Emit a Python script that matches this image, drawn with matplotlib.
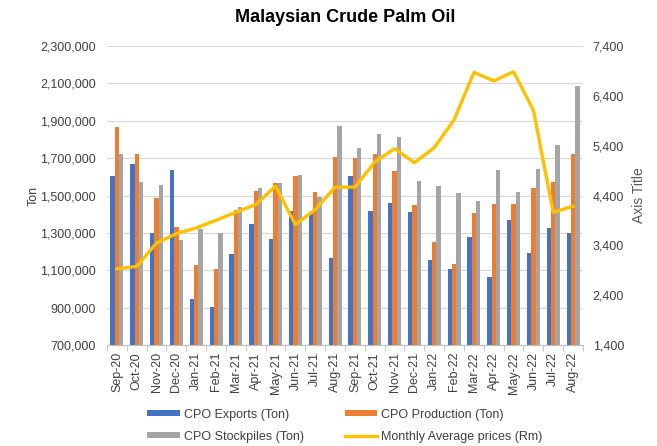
import numpy as np
import matplotlib
matplotlib.use("Agg")
import matplotlib.pyplot as plt
from matplotlib.ticker import FuncFormatter

plt.rcParams["font.family"] = ["Liberation Sans", "DejaVu Sans"]

months = ["Sep-20", "Oct-20", "Nov-20", "Dec-20", "Jan-21", "Feb-21", "Mar-21", "Apr-21",
          "May-21", "Jun-21", "Jul-21", "Aug-21", "Sep-21", "Oct-21", "Nov-21", "Dec-21",
          "Jan-22", "Feb-22", "Mar-22", "Apr-22", "May-22", "Jun-22", "Jul-22", "Aug-22"]

exports = [1607000, 1668000, 1302000, 1637000, 946000, 902000, 1187000, 1346000,
           1266000, 1416000, 1400000, 1166000, 1607000, 1418000, 1461000, 1412000,
           1157000, 1109000, 1280000, 1064000, 1368000, 1193000, 1325000, 1302000]
production = [1866000, 1721000, 1487000, 1329000, 1127000, 1105000, 1421000, 1523000,
              1566000, 1602000, 1518000, 1707000, 1698000, 1721000, 1632000, 1448000,
              1250000, 1134000, 1409000, 1457000, 1457000, 1541000, 1571000, 1721000]
stockpiles = [1721000, 1571000, 1557000, 1262000, 1320000, 1302000, 1439000, 1539000,
              1566000, 1609000, 1493000, 1871000, 1754000, 1830000, 1812000, 1580000,
              1550000, 1514000, 1470000, 1637000, 1518000, 1643000, 1770000, 2088000]
prices = [2930, 2977, 3447, 3635, 3749, 3903, 4064, 4219,
          4588, 3816, 4118, 4568, 4568, 5071, 5340, 5058,
          5360, 5917, 6870, 6700, 6883, 6111, 4064, 4185]

fig = plt.figure(figsize=(6.57, 4.46), dpi=100)
ax = fig.add_axes([107 / 657, 1 - 345 / 446, 476 / 657, 299 / 446])
ax2 = ax.twinx()

x = np.arange(len(months))
w = 0.22
b1 = ax.bar(x - w, exports, w, color="#4472C4", label="CPO Exports (Ton)", zorder=2)
b2 = ax.bar(x, production, w, color="#ED7D31", label="CPO Production (Ton)", zorder=2)
b3 = ax.bar(x + w, stockpiles, w, color="#A5A5A5", label="CPO Stockpiles (Ton)", zorder=2)
ln, = ax2.plot(x, prices, color="#FFC000", lw=2.4, label="Monthly Average prices (Rm)", zorder=3)

ax.set_ylim(700000, 2300000)
ax.set_yticks(np.arange(700000, 2300001, 200000))
ax.yaxis.set_major_formatter(FuncFormatter(lambda v, p: f"{int(v):,}"))
ax.set_xlim(-0.5, len(months) - 0.5)
ax.set_xticks(x)
ax.set_xticks(np.arange(-0.5, len(months), 1), minor=True)
ax.set_xticklabels(months, rotation=90)
ax.grid(axis="y", color="#D9D9D9", lw=0.9, zorder=0)
ax.set_axisbelow(True)

ax2.set_ylim(1400, 7400)
ax2.set_yticks(np.arange(1400, 7401, 1000))
ax2.yaxis.set_major_formatter(FuncFormatter(lambda v, p: f"{int(v):,}"))

for a in (ax, ax2):
    for s in ["top", "left", "right"]:
        a.spines[s].set_visible(False)
    a.spines["bottom"].set_color("#BFBFBF")
    a.tick_params(axis="y", length=0, labelsize=9, labelcolor="#404040")
ax2.spines["bottom"].set_visible(False)
ax.tick_params(axis="x", which="major", length=0, pad=5, labelsize=9, labelcolor="#404040")
ax.tick_params(axis="x", which="minor", length=4, color="#BFBFBF")
ax.tick_params(axis="y", pad=8)
ax2.tick_params(axis="y", pad=7)

ax.set_ylabel("Ton", fontsize=9, color="#404040", labelpad=0)
ax2.set_ylabel("Axis Title", fontsize=10, color="#595959", labelpad=6)

fig.text(0.525, 1 - 17 / 446, "Malaysian Crude Palm Oil", ha="center", va="center",
         fontsize=13, fontweight="bold")

fig.legend([b1, b3, b2, ln],
           ["CPO Exports (Ton)", "CPO Stockpiles (Ton)", "CPO Production (Ton)",
            "Monthly Average prices (Rm)"],
           ncol=2, loc="center", bbox_to_anchor=(0.525, 0.045),
           frameon=False, fontsize=9, handlelength=2.6, handleheight=0.35,
           columnspacing=3.3, labelspacing=0.8, handletextpad=0.3,
           labelcolor="#404040")

fig.savefig("out.png", dpi=100)
